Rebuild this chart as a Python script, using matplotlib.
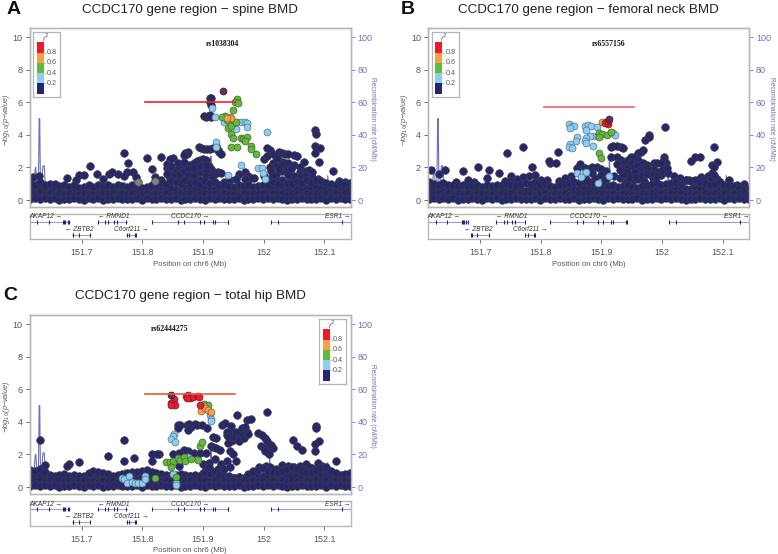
import matplotlib
matplotlib.use('Agg')
import matplotlib.pyplot as plt
from matplotlib.patches import Rectangle

FIG_W, FIG_H = 778, 554
plt.rcParams['font.family'] = ['Liberation Sans', 'DejaVu Sans']

NAVY = '#26266e'
GREY_PT = '#7f7f7f'
BLUE = '#8fcdf0'
GREEN = '#63b83e'
ORANGE = '#f7a04a'
RED = '#ea1c2c'
LEAD = '#6b2a66'
RECOMB = '#7070b8'
TEXT = '#595959'

xticks = [151.7, 151.8, 151.9, 152.0, 152.1]
xticklabels = ['151.7', '151.8', '151.9', '152', '152.1']
yticks = [0, 2, 4, 6, 8, 10]
rticks = [0, 20, 40, 60, 80, 100]
legend_colors = [NAVY, BLUE, GREEN, ORANGE, RED]
legend_labels = ['0.2', '0.4', '0.6', '0.8']

# recombination rate, same region in all three panels
recomb_x = [151.6136, 151.62, 151.622, 151.623, 151.624, 151.625, 151.626, 151.628, 151.629, 151.6295,
            151.6305, 151.631, 151.632, 151.634, 151.635, 151.636, 151.638, 151.639, 151.64, 151.7, 151.77,
            151.771, 151.772, 151.85, 151.9, 151.912, 151.913, 151.914, 151.916, 151.93, 151.945, 151.95,
            152.0, 152.009, 152.01, 152.012, 152.08, 152.105, 152.106, 152.108, 152.1435]
recomb_y = [1, 1, 14, 19, 20, 14, 1, 3, 30, 50,
            50, 30, 3, 2, 18, 21, 21, 14, 1, 0.5, 0.5,
            11, 0.5, 1, 1.5, 2, 27, 15, 1, 1, 8, 1,
            0.5, 1, 20, 1, 0.5, 1, 15, 1, 0.5]

# low-lying SNPs, read column by column along the region
band_x = [151.615, 151.623, 151.631, 151.639, 151.647, 151.655, 151.663, 151.671, 151.679, 151.687,
          151.695, 151.703, 151.711, 151.719, 151.727, 151.735, 151.743, 151.751, 151.759, 151.767,
          151.775, 151.783, 151.791, 151.799, 151.807, 151.815, 151.823, 151.831, 151.839, 151.847,
          151.855, 151.863, 151.871, 151.879, 151.887, 151.895, 151.903, 151.911, 151.919, 151.927,
          151.935, 151.943, 151.951, 151.959, 151.967, 151.975, 151.983, 151.991, 151.999, 152.007,
          152.015, 152.023, 152.031, 152.039, 152.047, 152.055, 152.063, 152.071, 152.079, 152.087,
          152.095, 152.103, 152.111, 152.119, 152.127, 152.135, 152.143]
band_lo = [0.05, 0.12, 0.04, 0.1, 0.06, 0.13, 0.03, 0.09, 0.05, 0.12, 0.07, 0.02, 0.1, 0.06, 0.12, 0.03, 0.08,
           0.05, 0.11, 0.04, 0.09, 0.06, 0.12, 0.03, 0.1, 0.05, 0.08, 0.13, 0.04, 0.07, 0.11, 0.03, 0.09, 0.05,
           0.12, 0.06, 0.02, 0.1, 0.07, 0.13, 0.04, 0.08, 0.05, 0.11, 0.03, 0.09, 0.06, 0.12, 0.04, 0.1, 0.05,
           0.13, 0.07, 0.03, 0.09, 0.06, 0.12, 0.04, 0.08, 0.05, 0.11, 0.03, 0.1, 0.06, 0.12, 0.04, 0.07]
band_mid = [0.42, 0.36, 0.45, 0.33, 0.4, 0.3, 0.44, 0.35, 0.41, 0.31, 0.38, 0.43, 0.34, 0.39, 0.3, 0.42, 0.36,
            0.44, 0.32, 0.4, 0.35, 0.43, 0.3, 0.38, 0.41, 0.33, 0.45, 0.36, 0.42, 0.31, 0.39, 0.44, 0.34, 0.4,
            0.3, 0.37, 0.43, 0.35, 0.41, 0.32, 0.44, 0.36, 0.39, 0.31, 0.42, 0.34, 0.45, 0.37, 0.4, 0.33, 0.43,
            0.35, 0.41, 0.3, 0.44, 0.38, 0.32, 0.42, 0.36, 0.45, 0.34, 0.4, 0.31, 0.43, 0.37, 0.41, 0.35]
band_up = [0.72, 0.66, 0.7, 0.62, 0.68, 0.64, 0.6, 0.66, 0.58, 0.63, 0.55, 0.6, 0.65, 0.58, 0.68, 0.62, 0.66,
           0.6, 0.67, 0.62, 0.58, 0.65, 0.68, 0.55, 0.6, 0.66, 0.64, 0.7, 0.68, 0.72, 0.7, 0.66, 0.74, 0.68,
           0.7, 0.66, 0.72, 0.68, 0.7, 0.64, 0.62, 0.6, 0.56, 0.62, 0.58, 0.64, 0.58, 0.62, 0.66, 0.64, 0.7,
           0.68, 0.64, 0.7, 0.68, 0.74, 0.7, 0.76, 0.72, 0.78, 0.74, 0.7, 0.68, 0.66, 0.7, 0.68, 0.7]
a_band_top = [1.05, 0.95, 1.1, 0.9, 1.0, 1.0, 0.85, 0.9, 0.8, 0.95, 0.75, 0.8, 0.9, 0.8, 0.95, 0.85, 0.9, 0.8,
              0.95, 0.85, 0.8, 0.9, 0.95, 0.75, 0.8, 0.95, 0.9, 1.05, 1.0, 1.15, 1.1, 1.0, 1.2, 1.05, 1.1, 1.0,
              1.15, 1.05, 1.1, 0.95, 0.9, 0.85, 0.8, 0.9, 0.85, 0.95, 0.8, 0.85, 0.95, 0.9, 1.1, 1.0, 0.9, 1.05,
              1.0, 1.15, 1.05, 1.2, 1.1, 1.25, 1.15, 1.05, 1.0, 0.95, 1.05, 1.0, 1.05]
b_band_top = [1.1, 1.0, 0.95, 1.05, 0.9, 0.95, 0.85, 0.9, 0.8, 0.85, 0.9, 0.8, 0.95, 0.85, 0.9, 0.95, 1.0, 0.9,
              0.95, 1.0, 1.05, 1.0, 1.1, 0.95, 1.0, 0.85, 0.8, 0.95, 1.0, 1.05, 1.1, 1.05, 1.15, 1.1, 1.05, 0.95,
              0.9, 0.85, 0.9, 0.8, 0.85, 0.9, 0.8, 0.75, 0.85, 0.9, 1.0, 1.05, 0.95, 1.0, 1.05, 1.1, 1.0, 1.2,
              1.15, 1.25, 1.1, 1.05, 0.95, 1.0, 1.1, 0.95, 0.9, 0.85, 0.75, 0.7, 0.65]
c_band_top = [1.05, 1.0, 1.1, 0.9, 0.75, 0.7, 0.75, 0.8, 0.7, 0.75, 0.65, 0.7, 0.85, 1.0, 0.95, 0.85, 0.8, 0.7,
              0.75, 0.8, 0.85, 0.95, 0.9, 1.0, 1.05, 0.9, 0.85, 0.8, 0.75, 0.7, 0.75, 0.8, 0.7, 0.65, 0.75, 0.7,
              0.85, 0.8, 0.9, 0.75, 0.7, 0.65, 0.55, 0.6, 0.5, 0.75, 0.95, 1.05, 1.15, 1.0, 0.9, 0.85, 1.0, 1.1,
              1.2, 1.1, 1.0, 0.95, 0.9, 1.05, 1.15, 1.2, 1.0, 0.85, 0.75, 0.8, 0.85]

a_navy = [(151.912, 6.25), (151.914, 6.25), (151.912, 6.0), (151.913, 5.85), (151.901, 5.15), (151.905, 5.12),
          (151.908, 5.15), (151.911, 5.2), (151.913, 5.1), (152.085, 4.3), (152.086, 4.03), (152.085, 3.34),
          (152.093, 3.18), (152.085, 2.91), (152.091, 2.32), (152.115, 1.78), (151.77, 2.87), (151.714, 2.09),
          (151.777, 2.25), (151.807, 2.6), (151.831, 2.64), (151.815, 1.89), (151.84, 1.95), (151.87, 2.9),
          (151.875, 2.95), (151.873, 2.85), (151.868, 2.75), (151.893, 3.25), (151.897, 3.2), (151.902, 3.15),
          (151.907, 3.15), (151.912, 3.15), (151.917, 3.2), (151.922, 3.3), (151.925, 3.1), (151.927, 2.95),
          (151.93, 2.85), (151.85, 2.6), (151.845, 2.5), (151.84, 2.2), (151.845, 1.9), (151.85, 1.75),
          (151.855, 1.8), (151.86, 2.05), (151.865, 2.1), (151.87, 2.2), (151.878, 2.15), (151.885, 2.25),
          (151.89, 2.4), (151.895, 2.45), (151.9, 2.5), (151.905, 2.45), (151.91, 2.1), (151.913, 1.9),
          (151.918, 1.75), (151.925, 1.7), (151.93, 1.65), (151.89, 1.6), (151.895, 1.7), (151.9, 1.75),
          (151.905, 1.8), (151.88, 1.7), (151.86, 1.4), (151.87, 1.6), (151.97, 1.7), (151.96, 1.6),
          (151.975, 1.5), (152.0, 2.5), (152.005, 3.2), (152.01, 3.05), (152.015, 2.85), (152.005, 2.7),
          (152.015, 2.3), (152.02, 2.1), (152.01, 2.0), (152.012, 1.8), (152.025, 2.95), (152.03, 2.9),
          (152.035, 2.85), (152.04, 2.8), (152.05, 2.75), (152.055, 2.7), (152.03, 2.35), (152.035, 2.3),
          (152.04, 2.25), (152.05, 2.15), (152.06, 2.0), (152.066, 2.35), (152.03, 1.8), (152.04, 1.85),
          (152.045, 1.9), (152.06, 1.7), (152.065, 1.75), (152.07, 1.8), (152.075, 1.85), (152.08, 1.7),
          (151.615, 1.3), (151.62, 1.4), (151.63, 1.45), (151.675, 1.35), (151.69, 1.25), (151.695, 1.55),
          (151.703, 1.55), (151.725, 1.6), (151.735, 1.3), (151.745, 1.6), (151.75, 1.75), (151.76, 1.6),
          (151.775, 1.75), (151.785, 1.7), (151.79, 1.4), (151.77, 1.45), (151.82, 1.4), (151.83, 1.2),
          (151.845, 1.35), (151.855, 1.25), (151.875, 1.35), (151.895, 1.25), (151.92, 1.6), (151.935, 1.1),
          (151.945, 1.2), (151.955, 1.3), (151.985, 1.35), (152.0, 1.5), (152.02, 1.55), (152.03, 1.25),
          (152.045, 1.1), (152.055, 1.35), (152.09, 1.3), (152.1, 1.05), (152.125, 1.15), (152.135, 1.1),
          (151.848, 2.1), (151.858, 2.3), (151.868, 2.35), (151.875, 1.9), (151.885, 1.95), (151.895, 2.1),
          (151.905, 2.15), (151.865, 1.7), (151.858, 1.55), (151.875, 1.55), (151.885, 1.45), (151.905, 1.5),
          (151.915, 1.45), (151.85, 1.5), (151.84, 1.6), (151.98, 1.35), (151.97, 1.3), (152.022, 2.6),
          (152.03, 2.1), (152.025, 1.9), (152.05, 1.5), (152.06, 1.45), (152.07, 1.5), (152.08, 1.4),
          (152.085, 1.15), (152.095, 1.1), (152.04, 1.55), (152.02, 1.25), (152.015, 1.5), (152.005, 1.25)]
a_grey = [(151.793, 1.1), (151.82, 1.15)]
a_blue = [(151.915, 5.65), (151.92, 5.1), (151.963, 4.81), (151.97, 4.81), (151.972, 4.71), (151.972, 4.5),
          (151.955, 4.37), (151.935, 4.81), (152.006, 4.2), (151.921, 3.54), (151.921, 3.28), (151.963, 2.15),
          (151.941, 1.54), (151.991, 1.98), (151.997, 1.95), (151.999, 1.68), (152.002, 1.29)]
a_green = [(151.956, 6.2), (151.953, 6.0), (151.958, 5.98), (151.95, 5.53), (151.936, 5.16), (151.932, 5.08),
           (151.939, 4.92), (151.95, 4.73), (151.941, 4.45), (151.947, 4.57), (151.954, 4.77), (151.947, 4.05),
           (151.949, 3.79), (151.962, 3.83), (151.966, 3.75), (151.972, 3.85), (151.969, 3.64), (151.947, 3.28),
           (151.956, 3.24), (151.979, 3.32), (151.98, 3.11), (151.987, 2.83)]
a_orange = [(151.944, 5.12), (151.947, 5.02), (151.94, 5.02)]
a_red = []
a_lead = [(151.933, 6.7)]

b_navy = [(152.005, 4.5), (151.979, 4.0), (151.979, 3.85), (151.971, 3.69), (152.086, 3.28), (152.048, 2.42),
          (152.055, 2.62), (152.063, 2.66), (151.744, 2.87), (151.77, 3.28), (151.829, 2.97), (151.815, 2.25),
          (151.814, 2.42), (151.825, 2.25), (151.786, 2.0), (151.696, 2.05), (151.672, 1.8), (151.619, 1.85),
          (151.632, 1.6), (151.642, 1.85), (151.715, 1.85), (151.73, 1.64), (151.711, 1.37), (152.083, 2.15),
          (151.915, 3.28), (151.919, 3.34), (151.926, 3.34), (151.932, 3.24), (151.936, 3.22), (151.966, 2.97),
          (151.969, 3.07), (151.96, 2.87), (151.915, 2.66), (151.926, 2.66), (151.932, 2.46), (151.937, 2.25),
          (151.943, 2.46), (151.948, 2.66), (151.953, 2.66), (151.961, 2.46), (151.969, 2.25), (151.975, 2.15),
          (151.986, 2.25), (151.991, 2.25), (152.004, 2.66), (152.004, 2.46), (152.007, 2.25), (151.999, 2.25),
          (151.937, 1.95), (151.943, 2.05), (151.948, 2.25), (151.953, 2.05), (151.959, 2.15), (151.964, 1.85),
          (151.969, 1.85), (151.975, 1.95), (151.98, 1.85), (151.986, 1.85), (151.994, 1.74), (151.999, 1.54),
          (152.01, 1.64), (152.09, 2.35), (152.086, 2.0), (152.082, 1.65), (152.075, 1.5), (152.09, 1.3),
          (152.123, 0.95), (152.135, 1.0), (151.86, 1.95), (151.865, 2.2), (151.872, 1.95), (151.878, 1.9),
          (151.885, 2.0), (151.892, 2.0), (151.9, 1.9), (151.908, 1.8), (151.85, 1.45), (151.84, 1.35),
          (151.83, 1.15), (151.81, 1.25), (151.8, 1.2), (151.79, 1.55), (151.78, 1.45), (151.77, 1.4),
          (151.76, 1.3), (151.75, 1.45), (151.74, 1.15), (151.75, 1.15), (151.69, 1.1), (151.68, 1.2),
          (151.66, 1.1), (151.92, 1.5), (151.93, 1.35), (151.94, 1.1), (151.95, 1.05), (151.96, 1.3),
          (151.97, 1.15), (151.985, 1.35), (152.02, 1.5), (152.03, 1.15), (152.04, 1.25), (152.06, 1.25),
          (152.075, 1.05), (152.11, 1.2), (151.875, 1.3), (151.89, 1.35), (151.905, 1.2), (151.925, 2.2),
          (151.93, 1.85), (151.94, 1.7), (151.948, 1.6), (151.955, 1.75), (151.965, 1.55), (151.975, 1.6),
          (151.985, 1.6), (151.992, 1.45), (152.0, 1.85), (152.008, 1.95), (151.955, 1.4), (151.945, 1.35),
          (151.935, 1.55), (152.03, 1.35), (152.045, 1.2), (152.05, 1.15), (152.055, 1.05), (152.065, 1.4),
          (152.07, 1.25), (152.08, 1.3), (152.085, 1.55), (151.9, 1.55), (151.885, 1.65)]
b_grey = []
b_blue = [(151.847, 4.67), (151.851, 4.55), (151.854, 4.55), (151.848, 4.45), (151.872, 4.55), (151.878, 4.6),
          (151.882, 4.57), (151.892, 4.5), (151.875, 4.3), (151.887, 3.93), (151.881, 3.93), (151.875, 3.83),
          (151.872, 3.63), (151.875, 3.52), (151.886, 3.32), (151.894, 3.93), (151.919, 4.1), (151.922, 4.0),
          (151.86, 3.85), (151.858, 3.65), (151.848, 3.44), (151.847, 3.28), (151.852, 3.18), (151.859, 1.64),
          (151.867, 1.54), (151.869, 1.68), (151.874, 1.74), (151.866, 1.43), (151.894, 1.07), (151.912, 1.48)]
b_green = [(151.896, 4.1), (151.901, 4.04), (151.909, 4.0), (151.916, 4.16), (151.896, 3.85), (151.896, 2.87),
           (151.9, 2.56)]
b_orange = [(151.901, 4.8)]
b_red = [(151.908, 4.8), (151.911, 4.67), (151.906, 4.75), (151.911, 4.85)]
b_lead = [(151.912, 4.95)]

c_navy = [(151.631, 2.91), (151.743, 1.93), (151.77, 2.87), (151.696, 1.52), (151.678, 1.41), (151.676, 1.27),
          (151.769, 1.62), (151.786, 1.78), (151.64, 1.37), (151.815, 1.58), (151.815, 2.03), (151.828, 2.05),
          (151.824, 2.03), (152.005, 4.61), (151.956, 4.4), (151.972, 4.14), (151.979, 4.18), (152.086, 3.73),
          (152.086, 3.63), (152.049, 2.91), (152.056, 2.5), (152.064, 2.25), (152.085, 2.66), (152.092, 2.8),
          (152.085, 2.2), (152.12, 1.62), (152.09, 1.5), (152.096, 1.28), (151.858, 3.8), (151.862, 3.83),
          (151.859, 3.6), (151.873, 3.79), (151.877, 3.87), (151.881, 3.67), (151.887, 3.87), (151.876, 3.51),
          (151.89, 3.83), (151.898, 3.83), (151.906, 3.63), (151.917, 3.1), (151.921, 3.0), (151.914, 2.5),
          (151.917, 2.46), (151.922, 2.4), (151.928, 2.3), (151.931, 3.83), (151.936, 3.93), (151.947, 3.73),
          (151.939, 3.2), (151.944, 3.0), (151.95, 2.9), (151.955, 3.0), (151.961, 3.4), (151.964, 3.6),
          (151.969, 3.7), (151.972, 3.4), (151.964, 3.2), (151.947, 2.8), (151.942, 2.7), (151.939, 3.4),
          (151.944, 2.2), (151.95, 2.0), (151.955, 1.6), (151.94, 1.6), (151.93, 1.4), (151.92, 1.7),
          (151.91, 1.5), (151.905, 1.1), (151.99, 3.3), (151.998, 3.2), (152.003, 3.0), (152.006, 2.8),
          (152.012, 2.6), (152.015, 2.4), (152.006, 2.2), (152.009, 2.0), (151.995, 2.5), (152.0, 2.4),
          (152.003, 2.2), (151.975, 0.8), (151.983, 1.0), (151.993, 1.2), (152.004, 1.3), (152.01, 1.25),
          (152.03, 1.35), (152.04, 1.3), (152.05, 1.2), (152.06, 1.3), (152.07, 1.4), (152.08, 1.15),
          (151.85, 2.0), (151.86, 1.3), (151.875, 2.2), (151.885, 2.1), (151.895, 2.1), (151.905, 2.1),
          (151.9, 1.4), (151.9, 0.85), (151.915, 1.0), (151.93, 0.8), (151.95, 3.3), (151.955, 3.35),
          (151.948, 3.1), (151.96, 2.8), (151.968, 3.0), (151.975, 3.25), (151.942, 3.15), (151.925, 1.1),
          (151.935, 1.1), (151.945, 1.2), (151.92, 0.7), (151.91, 1.2), (152.02, 1.1), (152.045, 1.0),
          (152.065, 1.1), (152.075, 1.2), (152.095, 1.0), (152.105, 1.0), (151.868, 2.3), (151.86, 2.1)]
c_grey = []
c_blue = [(151.912, 4.4), (151.913, 4.2), (151.913, 4.04), (151.852, 3.26), (151.85, 3.11), (151.847, 2.95),
          (151.854, 2.75), (151.766, 0.55), (151.77, 0.51), (151.778, 0.7), (151.774, 0.25), (151.782, 0.29),
          (151.788, 0.27), (151.792, 0.22), (151.799, 0.25), (151.805, 0.66), (151.805, 0.51), (151.85, 0.82),
          (151.855, 0.25), (151.855, 0.1), (151.876, 1.82)]
c_green = [(151.902, 5.1), (151.909, 5.04), (151.895, 2.5), (151.899, 2.75), (151.839, 1.52), (151.845, 1.52),
           (151.851, 1.58), (151.848, 1.23), (151.858, 1.78), (151.862, 1.68), (151.868, 1.82), (151.87, 1.58),
           (151.881, 1.72), (151.892, 1.64), (151.855, 0.61), (151.82, 0.55)]
c_orange = [(151.901, 4.96), (151.896, 4.65), (151.903, 4.86), (151.909, 4.75), (151.913, 4.61)]
c_red = [(151.852, 5.43), (151.848, 5.16), (151.854, 5.06), (151.847, 5.02), (151.872, 5.57), (151.876, 5.63),
         (151.879, 5.47), (151.883, 5.51), (151.873, 5.47), (151.891, 5.61), (151.893, 5.51), (151.895, 5.06)]
c_lead = [(151.847, 5.68)]

gene_names = ['AKAP12 \u2192', '\u2190 RMND1', 'CCDC170 \u2192', 'ESR1 \u2192', '\u2190 ZBTB2', 'C6orf211 \u2192']
gene_label_x = [151.64, 151.752, 151.879, 152.123, 151.696, 151.782]
gene_start = [151.6136, 151.726, 151.815, 152.012, 151.684, 151.773]
gene_end = [151.68, 151.774, 151.942, 152.1435, 151.714, 151.79]
gene_row = [1, 1, 1, 1, 0, 0]
gene_exons = [[151.626, 151.645, 151.669, 151.671, 151.673, 151.677, 151.679],
              [151.726, 151.739, 151.744, 151.753, 151.758, 151.773],
              [151.815, 151.859, 151.869, 151.895, 151.902, 151.916, 151.919, 151.941, 151.942],
              [152.012, 152.023, 152.129],
              [151.685, 151.686, 151.695, 151.714],
              [151.774, 151.778, 151.788, 151.79]]


def px_rect(left, top, right, bottom):
    return [left / FIG_W, 1 - bottom / FIG_H, (right - left) / FIG_W, (bottom - top) / FIG_H]


def scatter(ax, pts, color, edge='#3c3c3c', size=30):
    if pts:
        ax.scatter([p[0] for p in pts], [p[1] for p in pts], s=size, c=color, edgecolors=edge,
                   linewidths=0.5, clip_on=True)


def legend(ax, lx):
    box = ax.inset_axes([lx, 0.615, 0.084, 0.363])
    box.set_xlim(0, 1)
    box.set_ylim(0, 1)
    box.set_xticks([])
    box.set_yticks([])
    for s in box.spines.values():
        s.set_color('#b5b5b5')
        s.set_linewidth(0.9)
    for i, c in enumerate(legend_colors):
        box.add_patch(Rectangle((0.13, 0.05 + i * 0.158), 0.25, 0.158, color=c, lw=0))
    for i, lab in enumerate(legend_labels):
        y = 0.05 + (i + 1) * 0.158
        box.plot([0.38, 0.46], [y, y], color='#999999', lw=0.4)
        box.text(0.5, y, lab, fontsize=5.2, color=TEXT, va='center')
    box.text(0.45, 0.91, 'r$^2$', fontsize=5.5, color=TEXT, ha='center', va='center', style='italic')


def panel(left, top, letter, letter_pos, title, title_pos, rs, rs_pos, band_top, navy, grey, blue, green,
          orange, red, lead, line_y, line_color, legend_x):
    right = left + 321
    ax = fig.add_axes(px_rect(left, top, right, top + 179))
    rax = ax.twinx()
    rax.plot(recomb_x, recomb_y, color=RECOMB, lw=0.8)
    rax.set_ylim(-4.3, 105.7)
    rax.set_yticks(rticks)
    rax.tick_params(axis='y', colors=RECOMB, labelsize=6.5, length=3, width=0.6, pad=2)
    rax.set_ylabel('Recombination rate (cM/Mb)', rotation=270, color=RECOMB, fontsize=4.8, va='center')
    rax.yaxis.set_label_coords(1.07, 0.49)
    ax.set_zorder(rax.get_zorder() + 1)
    ax.patch.set_visible(False)

    band = (list(zip(band_x, band_up)) + list(zip(band_x, band_top)) + list(zip(band_x, band_mid))
            + list(zip(band_x, band_lo)))
    scatter(ax, navy, NAVY)
    scatter(ax, band, NAVY)
    scatter(ax, grey, GREY_PT)
    scatter(ax, blue, BLUE, '#55758f', 25)
    scatter(ax, green, GREEN, '#41662f', 25)
    scatter(ax, orange, ORANGE, '#80603a', 25)
    scatter(ax, red, RED, '#6e2030', 25)
    scatter(ax, lead, LEAD, '#222222', 25)
    ax.plot([151.805, 151.953], [line_y, line_y], color=line_color, lw=1.2, zorder=5)

    ax.set_xlim(151.6136, 152.1435)
    ax.set_ylim(-0.43, 10.57)
    ax.set_xticks([])
    ax.set_yticks(yticks)
    ax.tick_params(axis='y', colors=TEXT, labelsize=6.5, length=3, width=0.6, pad=2)
    ax.set_ylabel('\u2212log$_{10}$(p\u2212value)', color=TEXT, fontsize=5.2, style='italic', va='center')
    ax.yaxis.set_label_coords(-0.073, 0.49)
    for a in (ax, rax):
        for s in a.spines.values():
            s.set_color('#b8b8b8')
            s.set_linewidth(1.0)
    legend(ax, legend_x)

    gx = fig.add_axes(px_rect(left, top + 186, right, top + 211))
    gx.set_xlim(151.6136, 152.1435)
    gx.set_ylim(0, 1)
    gx.set_yticks([])
    gx.set_xticks(xticks)
    gx.set_xticklabels(xticklabels)
    gx.tick_params(axis='x', colors=TEXT, labelsize=6.5, length=3, width=0.6, pad=3.5)
    gx.set_xlabel('Position on chr6 (Mb)', color=TEXT, fontsize=5.6, labelpad=2.5)
    for s in gx.spines.values():
        s.set_color('#b8b8b8')
        s.set_linewidth(1.0)
    for i, name in enumerate(gene_names):
        y = 0.68 if gene_row[i] else 0.18
        gx.plot([gene_start[i], gene_end[i]], [y, y], color=RECOMB, lw=0.5)
        gx.plot(gene_exons[i], [y] * len(gene_exons[i]), color=NAVY, ls='', marker='|', ms=2.5, mew=0.8)
        gx.text(gene_label_x[i], y + 0.2, name, fontsize=4.7, style='italic', color='#333333',
                ha='center', va='center')

    fig.text(letter_pos[0] / FIG_W, 1 - letter_pos[1] / FIG_H, letter, fontsize=14, fontweight='bold',
             ha='center', va='center', color='#111111')
    fig.text(title_pos[0] / FIG_W, 1 - title_pos[1] / FIG_H, title, fontsize=9.6, ha='center', va='center',
             color='#222222')
    fig.text(rs_pos[0] / FIG_W, 1 - rs_pos[1] / FIG_H, rs, fontsize=5.6, fontweight='bold',
             family='Liberation Serif', ha='center', va='center', color='#111111')


fig = plt.figure(figsize=(FIG_W / 100, FIG_H / 100), dpi=100)
panel(29.5, 28, 'A', (14, 10), 'CCDC170 gene region \u2212 spine BMD', (190, 10), 'rs1038304', (222.7, 43.5),
      a_band_top, a_navy, a_grey, a_blue, a_green, a_orange, a_red, a_lead, 6.0, '#f0222e', 0.012)
panel(428, 28, 'B', (408, 10), 'CCDC170 gene region \u2212 femoral neck BMD', (588, 10), 'rs6557156', (609, 44),
      b_band_top, b_navy, b_grey, b_blue, b_green, b_orange, b_red, b_lead, 5.7, '#f0605c', 0.012)
panel(29.5, 315, 'C', (10, 296), 'CCDC170 gene region \u2212 total hip BMD', (190, 296), 'rs62444275', (170, 329),
      c_band_top, c_navy, c_grey, c_blue, c_green, c_orange, c_red, c_lead, 5.7, '#f2562c', 0.903)
fig.savefig('out.png', dpi=100)
